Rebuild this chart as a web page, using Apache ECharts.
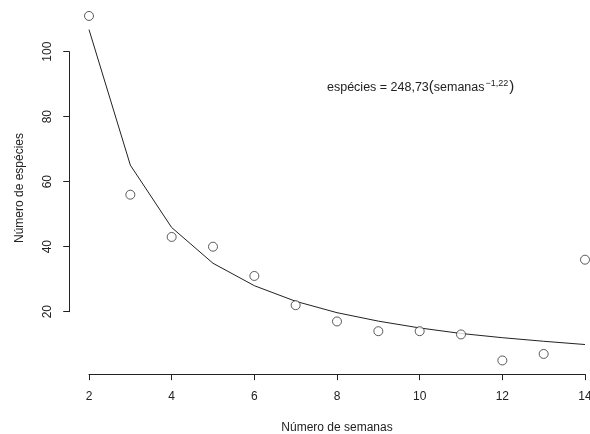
<!DOCTYPE html>
<html>
<head>
<meta charset="utf-8">
<script src="https://cdn.jsdelivr.net/npm/echarts@6/dist/echarts.min.js"></script>
<style>
html,body{margin:0;padding:0;background:#fff;}
#chart{width:590px;height:434px;}
</style>
</head>
<body>
<div id="chart"></div>
<script>
const weeks = [2, 3, 4, 5, 6, 7, 8, 9, 10, 11, 12, 13, 14];
const species = [111, 56, 43, 40, 31, 22, 17, 14, 14, 13, 5, 7, 36];
const fitted = [106.8, 65.1, 45.9, 34.9, 28.0, 23.2, 19.7, 17.1, 15.0, 13.3, 12.0, 10.9, 9.9];
const xTicks = [2, 4, 6, 8, 10, 12, 14];
const yTicks = [20, 40, 60, 80, 100];

const FONT = '"Liberation Sans", Arial, sans-serif';
const INK = '#222';

const chart = echarts.init(document.getElementById('chart'), null, {renderer: 'canvas'});
chart.setOption({
  animation: false,
  backgroundColor: '#fff',
  grid: {left: 89, right: 5, top: 51.7, bottom: 122.3, containLabel: false, outerBoundsMode: 'none'},
  xAxis: {
    type: 'value',
    min: xTicks[0], max: xTicks[xTicks.length - 1], interval: 2,
    offset: 62.5,
    splitLine: {show: false},
    axisLine: {show: true, lineStyle: {color: INK, width: 1}},
    axisTick: {show: true, length: 6, lineStyle: {color: INK}},
    axisLabel: {color: INK, fontFamily: FONT, fontSize: 12, margin: 16},
    name: 'Número de semanas',
    nameLocation: 'middle',
    nameGap: 47,
    nameTextStyle: {color: INK, fontFamily: FONT, fontSize: 12}
  },
  yAxis: {
    type: 'value',
    min: yTicks[0], max: yTicks[yTicks.length - 1], interval: 20,
    offset: 19.8,
    splitLine: {show: false},
    axisLine: {show: true, lineStyle: {color: INK, width: 1}},
    axisTick: {show: true, length: 6, lineStyle: {color: INK}},
    axisLabel: {color: INK, fontFamily: FONT, fontSize: 12, margin: 16, rotate: 90}
  },
  graphic: [
    {
      type: 'text', x: 20, y: 188, rotation: Math.PI / 2,
      style: {text: 'Número de espécies', fill: INK, font: '12px ' + FONT, align: 'center', verticalAlign: 'middle'}
    },
    {
      type: 'text', x: 327, y: 87,
      style: {
        text: '{n|espécies = 248,73}{p|(}{n|semanas}{s|−1,22}{p|)}',
        verticalAlign: 'middle',
        rich: {
          n: {fill: INK, fontFamily: FONT, fontSize: 12.5, verticalAlign: 'bottom'},
          p: {fill: INK, fontFamily: FONT, fontSize: 15, verticalAlign: 'bottom'},
          s: {fill: INK, fontFamily: FONT, fontSize: 9, verticalAlign: 'top', padding: [0, 1, 0, 1]}
        }
      }
    }
  ],
  series: [
    {
      type: 'line',
      data: weeks.map((w, i) => [w, fitted[i]]),
      showSymbol: false,
      clip: false,
      lineStyle: {color: INK, width: 1},
      z: 2
    },
    {
      type: 'scatter',
      data: weeks.map((w, i) => [w, species[i]]),
      symbol: 'circle',
      symbolSize: 9,
      clip: false,
      itemStyle: {color: '#fff', borderColor: '#333', borderWidth: 1},
      z: 3
    }
  ]
});
</script>
</body>
</html>
